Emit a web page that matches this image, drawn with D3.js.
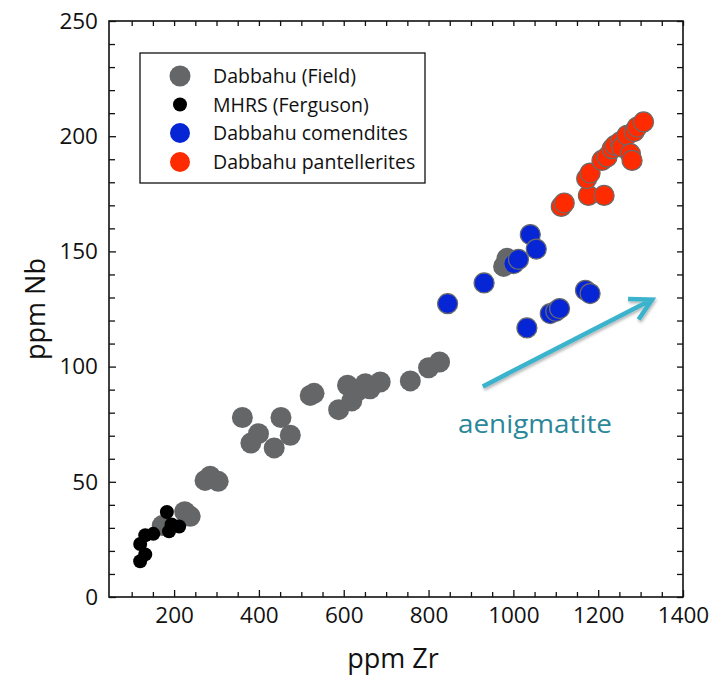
<!DOCTYPE html>
<html>
<head>
<meta charset="utf-8">
<script src="https://cdn.jsdelivr.net/npm/d3@7"></script>
<style>
  html, body { margin: 0; padding: 0; background: #fff; }
  svg { display: block; font-family: "Open Sans", "Liberation Sans", sans-serif; }
</style>
</head>
<body>
<svg id="chart" width="720" height="675"></svg>
<script>
// Dabbahu (Field) samples
const fieldZr = [172, 225, 238, 273, 285, 304, 361, 381, 399, 436, 452, 474, 521, 530,
                 588, 609, 619, 635, 651, 662, 686, 757, 800, 826, 977, 985];
const fieldNb = [31, 37, 35, 50.6, 52.4, 50.2, 77.9, 66.8, 70.9, 64.7, 77.9, 70.2, 87.5, 88.4,
                 81.3, 91.9, 85.1, 89.7, 92.6, 90.4, 93.3, 93.8, 99.5, 102, 143.5, 147];

// MHRS (Ferguson) samples
const mhrsZr = [120, 132, 120, 132, 151, 183, 188, 194, 212];
const mhrsNb = [15.5, 18.5, 23, 26.8, 27.4, 36.9, 28.5, 31.5, 30.6];

// Dabbahu comendites
const comZr = [845, 931, 1001, 1012, 1040, 1054, 1032, 1087, 1100, 1109, 1170, 1181];
const comNb = [127.3, 136.3, 144.7, 146.5, 157.3, 151, 116.8, 123, 124, 125.2, 133.1, 131.7];

// Dabbahu pantellerites
const panZr = [1113, 1120, 1177, 1214, 1173, 1181, 1209, 1221, 1233, 1240, 1252, 1256,
               1268, 1276, 1280, 1285, 1292, 1307];
const panNb = [169.5, 171, 174.3, 174.3, 181.6, 184, 189.5, 191, 194.6, 196, 197.5, 195.3,
               200.4, 192.4, 189.5, 202, 204, 206.2];

// Axis ticks
const xTickLabels = [200, 400, 600, 800, 1000, 1200, 1400];
const yTickLabels = [0, 50, 100, 150, 200, 250];

// Aenigmatite fractionation vector (Zr, Nb)
const arrowFrom = [928, 91.4];
const arrowTo = [1327, 129.1];

const seriesNames = ["Dabbahu (Field)", "MHRS (Ferguson)", "Dabbahu comendites", "Dabbahu pantellerites"];

const svg = d3.select("#chart");
const plotLeft = 109, plotRight = 683, plotTop = 21, plotBottom = 597;

const x = d3.scaleLinear().domain([46.5, 1400]).range([plotLeft, plotRight]);
const y = d3.scaleLinear().domain([0, 250]).range([plotBottom, plotTop]);

const xMinor = d3.range(100, 1400, 50).filter(v => v % 200 !== 0);
const yMinor = d3.range(10, 250, 10).filter(v => v % 50 !== 0);

const axisStroke = g => g.selectAll(".domain").remove();
const tickFont = g => g.selectAll("text")
  .attr("font-family", "'Open Sans', sans-serif")
  .attr("font-size", 22.5).attr("fill", "#111");
const plain = d3.format("d");

// inward ticks on all four sides
svg.append("g").attr("transform", `translate(0,${plotBottom})`)
  .call(d3.axisTop(x).tickValues(xTickLabels).tickSize(7).tickFormat(""))
  .call(axisStroke);
svg.append("g").attr("transform", `translate(0,${plotBottom})`)
  .call(d3.axisTop(x).tickValues(xMinor).tickSize(5).tickFormat(""))
  .call(axisStroke);
svg.append("g").attr("transform", `translate(0,${plotBottom})`)
  .call(d3.axisBottom(x).tickValues(xTickLabels).tickSize(0).tickPadding(10).tickFormat(plain))
  .call(axisStroke).call(tickFont);

svg.append("g").attr("transform", `translate(0,${plotTop})`)
  .call(d3.axisBottom(x).tickValues(xTickLabels.concat(xMinor)).tickSize(5).tickFormat(""))
  .call(axisStroke);

svg.append("g").attr("transform", `translate(${plotLeft},0)`)
  .call(d3.axisRight(y).tickValues(yTickLabels).tickSize(7).tickFormat(""))
  .call(axisStroke);
svg.append("g").attr("transform", `translate(${plotLeft},0)`)
  .call(d3.axisRight(y).tickValues(yMinor).tickSize(6).tickFormat(""))
  .call(axisStroke);
svg.append("g").attr("transform", `translate(${plotLeft},0)`)
  .call(d3.axisLeft(y).tickValues(yTickLabels).tickSize(0).tickPadding(11).tickFormat(plain))
  .call(axisStroke).call(tickFont);

svg.append("g").attr("transform", `translate(${plotRight},0)`)
  .call(d3.axisLeft(y).tickValues(yTickLabels.concat(yMinor)).tickSize(6).tickFormat(""))
  .call(axisStroke);

svg.selectAll(".tick line").attr("stroke", "#111").attr("stroke-width", 1.3);

// plot frame
svg.append("rect")
  .attr("x", plotLeft).attr("y", plotTop)
  .attr("width", plotRight - plotLeft).attr("height", plotBottom - plotTop)
  .attr("fill", "none").attr("stroke", "#111").attr("stroke-width", 1.6);

// axis titles
svg.append("text")
  .attr("x", 393).attr("y", 668)
  .attr("text-anchor", "middle").attr("font-size", 27).attr("fill", "#111")
  .text("ppm Zr");
svg.append("text")
  .attr("transform", `translate(45,${(plotTop + plotBottom) / 2}) rotate(-90)`)
  .attr("text-anchor", "middle").attr("font-size", 27).attr("fill", "#111")
  .text("ppm Nb");

// data points
const plot = svg.append("g");
function drawSeries(xs, ys, r, fill, stroke) {
  plot.append("g").selectAll("circle")
    .data(xs.map((v, i) => [v, ys[i]]))
    .join("circle")
    .attr("cx", d => x(d[0])).attr("cy", d => y(d[1]))
    .attr("r", r)
    .attr("fill", fill)
    .attr("stroke", stroke || "none")
    .attr("stroke-width", stroke ? 1.2 : 0);
}
drawSeries(fieldZr, fieldNb, 10.5, "#656668");
drawSeries(mhrsZr, mhrsNb, 7, "#000000");
drawSeries(comZr, comNb, 10, "#0626d6", "#6a6a6a");
drawSeries(panZr, panNb, 10, "#ff2b00", "#6a6a6a");

// aenigmatite arrow
const defs = svg.append("defs");
const shadow = defs.append("filter").attr("id", "arrowShadow")
  .attr("x", "-20%").attr("y", "-20%").attr("width", "140%").attr("height", "140%");
shadow.append("feDropShadow").attr("dx", 1).attr("dy", 2).attr("stdDeviation", 1.5)
  .attr("flood-color", "#000").attr("flood-opacity", 0.3);

const ax0 = x(arrowFrom[0]), ay0 = y(arrowFrom[1]);
const ax1 = x(arrowTo[0]), ay1 = y(arrowTo[1]);
const ang = Math.atan2(ay1 - ay0, ax1 - ax0);
const headLen = 24, headSpread = 0.5;
const arrowPath = d3.path();
arrowPath.moveTo(ax0, ay0); arrowPath.lineTo(ax1, ay1);
arrowPath.moveTo(ax1 - headLen * Math.cos(ang - headSpread), ay1 - headLen * Math.sin(ang - headSpread));
arrowPath.lineTo(ax1, ay1);
arrowPath.lineTo(ax1 - headLen * Math.cos(ang + headSpread), ay1 - headLen * Math.sin(ang + headSpread));
svg.append("path")
  .attr("d", arrowPath.toString())
  .attr("fill", "none").attr("stroke", "#3bb3cc").attr("stroke-width", 4.5)
  .attr("stroke-linejoin", "miter").attr("filter", "url(#arrowShadow)");

svg.append("text")
  .attr("x", 458).attr("y", 433)
  .attr("font-family", "'Open Sans', sans-serif")
  .attr("font-size", 26).attr("fill", "#2b8799")
  .attr("textLength", 154).attr("lengthAdjust", "spacingAndGlyphs")
  .text("aenigmatite");

// legend
const lg = svg.append("g");
lg.append("rect").attr("x", 140).attr("y", 53).attr("width", 285).attr("height", 130)
  .attr("fill", "#fff").attr("stroke", "#111").attr("stroke-width", 1.3);
const legendItems = [
  { r: 10.5, fill: "#656668" },
  { r: 7, fill: "#000000" },
  { r: 10, fill: "#0626d6" },
  { r: 10, fill: "#ff2b00" }
];
const rowY = [76, 104.5, 133, 162];
legendItems.forEach((it, i) => {
  lg.append("circle").attr("cx", 180).attr("cy", rowY[i]).attr("r", it.r).attr("fill", it.fill);
  lg.append("text").attr("x", 213).attr("y", rowY[i] + 7)
    .attr("font-size", 19.5).attr("fill", "#111")
    .text(seriesNames[i]);
});
</script>
</body>
</html>
